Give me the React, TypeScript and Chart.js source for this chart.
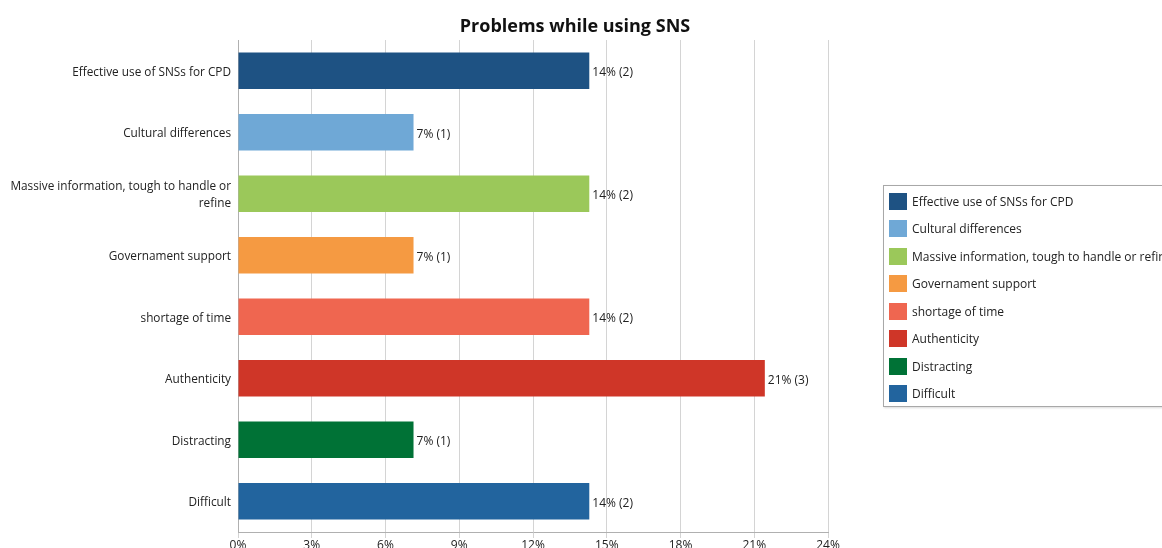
import React, { useEffect, useRef } from "react";
import { Chart, registerables } from "chart.js";

Chart.register(...registerables);

const categories: (string | string[])[] = [
  "Effective use of SNSs for CPD",
  "Cultural differences",
  ["Massive information, tough to handle or", "refine"],
  "Governament support",
  "shortage of time",
  "Authenticity",
  "Distracting",
  "Difficult",
];
const legendNames = [
  "Effective use of SNSs for CPD",
  "Cultural differences",
  "Massive information, tough to handle or refine",
  "Governament support",
  "shortage of time",
  "Authenticity",
  "Distracting",
  "Difficult",
];
const values = [14.29, 7.14, 14.29, 7.14, 14.29, 21.43, 7.14, 14.29];
const counts = [2, 1, 2, 1, 2, 3, 1, 2];
const colors = [
  "#1E5283",
  "#6FA8D6",
  "#9BC85A",
  "#F59A42",
  "#EF6650",
  "#CF3628",
  "#007236",
  "#22649E",
];
const xTickStep = 3;
const xMin = 0;
const xMax = 24;
const title = "Problems while using SNS";

const FONT = "'Open Sans', 'Noto Sans', sans-serif";

const barLabelPlugin = {
  id: "barLabels",
  afterDatasetsDraw(chart: any) {
    const ctx = chart.ctx;
    const meta = chart.getDatasetMeta(0);
    ctx.save();
    ctx.font = `12px ${FONT}`;
    ctx.fillStyle = "#222";
    ctx.textAlign = "left";
    ctx.textBaseline = "middle";
    meta.data.forEach((bar: any, i: number) => {
      ctx.fillText(`${Math.round(values[i])}% (${counts[i]})`, bar.x + 3, bar.y + 2);
    });
    ctx.restore();
  },
};

export default function App() {
  const canvasRef = useRef<HTMLCanvasElement>(null);

  useEffect(() => {
    if (!canvasRef.current) return;
    const chart = new Chart(canvasRef.current, {
      type: "bar",
      data: {
        labels: categories,
        datasets: [
          {
            data: values,
            backgroundColor: colors,
            borderWidth: 0,
            barPercentage: 0.59,
            categoryPercentage: 1,
          },
        ],
      },
      options: {
        indexAxis: "y",
        responsive: false,
        animation: false,
        layout: { padding: { top: 40, right: 334, left: 0, bottom: 0 } },
        plugins: {
          legend: { display: false },
          title: { display: false },
          tooltip: { enabled: false },
        },
        scales: {
          x: {
            type: "linear",
            min: xMin,
            max: xMax,
            ticks: {
              stepSize: xTickStep,
              callback: (v: any) => `${v}%`,
              font: { family: FONT, size: 12 },
              color: "#222",
              padding: 0,
            },
            grid: { color: "#d4d4d4", tickLength: 6 },
            border: { color: "#b0b0b0" },
            afterFit: (s: any) => {
              s.height = 16;
            },
          },
          y: {
            type: "category",
            grid: { display: false, drawTicks: false, tickLength: 0 },
            border: { display: true, color: "#b0b0b0" },
            ticks: {
              font: { family: FONT, size: 11.8, lineHeight: 1.42 },
              color: "#222",
              padding: 7,
              labelOffset: 1.5,
            },
            afterFit: (s: any) => {
              s.width = 238;
            },
          },
        },
      },
      plugins: [barLabelPlugin],
    });
    return () => chart.destroy();
  }, []);

  return (
    <div
      style={{
        position: "fixed",
        left: 0,
        top: 0,
        width: 1162,
        height: 548,
        overflow: "hidden",
        background: "#fff",
        fontFamily: FONT,
      }}
    >
      <canvas ref={canvasRef} width={1162} height={548} style={{ position: "absolute", left: 0, top: 0 }} />
      <div
        style={{
          position: "absolute",
          left: 0,
          width: 1150,
          top: 13,
          textAlign: "center",
          fontWeight: 700,
          fontSize: 18,
          lineHeight: "24px",
          color: "#111",
        }}
      >
        {title}
      </div>
      <div
        style={{
          position: "absolute",
          left: 883,
          top: 185,
          width: 320,
          height: 222,
          border: "1px solid #a8a8a8",
          boxShadow: "1px 1px 2px rgba(0,0,0,0.15)",
          boxSizing: "border-box",
        }}
      >
        {legendNames.map((name, i) => (
          <div
            key={i}
            style={{
              position: "absolute",
              left: 5,
              top: 6 + i * 27.55,
              height: 18,
              display: "flex",
              alignItems: "center",
              whiteSpace: "nowrap",
              fontSize: 12,
              color: "#222",
            }}
          >
            <span style={{ display: "inline-block", width: 18, height: 17, background: colors[i], marginRight: 5 }} />
            <span>{name}</span>
          </div>
        ))}
      </div>
    </div>
  );
}
